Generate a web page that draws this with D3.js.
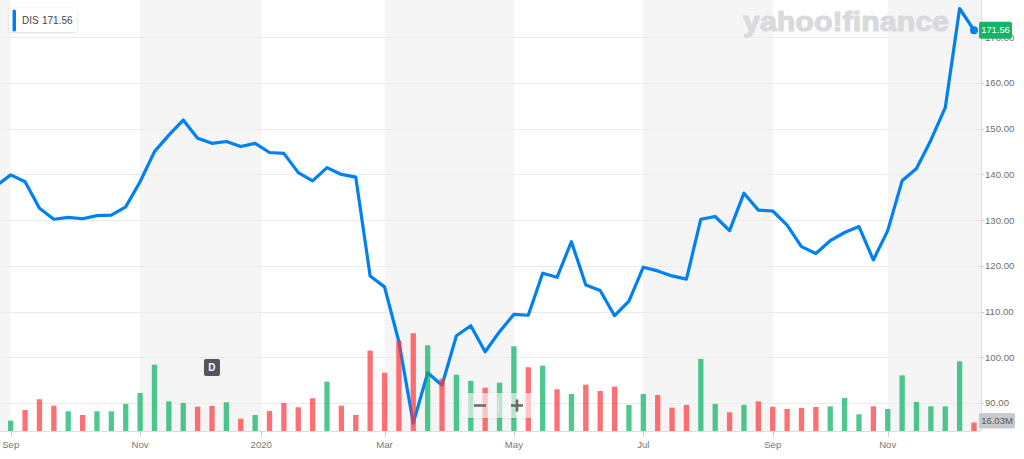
<!DOCTYPE html>
<html><head><meta charset="utf-8">
<script src="https://cdn.jsdelivr.net/npm/d3@7"></script>
<style>
body{margin:0;background:#fff;}
svg{display:block;font-family:"Liberation Sans",Arial,sans-serif;}
</style>
</head><body>
<svg id="c" width="1024" height="459"></svg>
<script>
// ---- data ----
const weeks = [
"2019-08-26","2019-09-02","2019-09-09","2019-09-16","2019-09-23","2019-09-30","2019-10-07","2019-10-14","2019-10-21","2019-10-28",
"2019-11-04","2019-11-11","2019-11-18","2019-11-25","2019-12-02","2019-12-09","2019-12-16","2019-12-23","2019-12-30",
"2020-01-06","2020-01-13","2020-01-20","2020-01-27","2020-02-03","2020-02-10","2020-02-17","2020-02-24",
"2020-03-02","2020-03-09","2020-03-16","2020-03-23","2020-03-30","2020-04-06","2020-04-13","2020-04-20","2020-04-27",
"2020-05-04","2020-05-11","2020-05-18","2020-05-25","2020-06-01","2020-06-08","2020-06-15","2020-06-22","2020-06-29",
"2020-07-06","2020-07-13","2020-07-20","2020-07-27","2020-08-03","2020-08-10","2020-08-17","2020-08-24","2020-08-31",
"2020-09-07","2020-09-14","2020-09-21","2020-09-28","2020-10-05","2020-10-12","2020-10-19","2020-10-26",
"2020-11-02","2020-11-09","2020-11-16","2020-11-23","2020-11-30","2020-12-07","2020-12-14"];
const closes = [
137.5,139.9,138.4,132.6,130.2,130.6,130.3,131.0,131.1,132.9,
138.4,145.0,148.6,151.9,147.9,146.8,147.2,146.1,146.8,
144.8,144.6,140.4,138.6,141.5,140.0,139.4,117.8,
115.4,103.4,85.6,96.6,93.9,104.7,106.9,101.2,105.6,
109.4,109.2,118.4,117.5,125.3,115.8,114.6,109.1,112.3,
119.7,118.9,117.8,117.1,130.2,130.8,127.7,135.9,132.2,
132.0,128.9,124.2,122.7,125.5,127.3,128.6,121.3,
127.7,138.6,141.3,147.5,154.6,176.3,171.56];
// weekly volume in millions, from week 2019-09-02 on
const volumes = [
19.4,39.5,59.6,47.6,37.0,30.1,37.0,37.0,50.8,71.4,
124.6,55.8,52.6,45.7,47.0,54.0,23.1,30.1,
37.6,52.6,44.6,61.5,92.7,47.6,30.1,151.0,
109.6,169.8,183.7,161.1,98.3,105.8,94.0,81.4,90.8,
159.2,119.8,122.8,78.4,69.6,87.0,75.2,83.3,48.9,
69.6,67.7,43.8,48.9,135.4,50.8,35.2,48.9,55.8,
45.6,41.4,43.2,45.1,46.4,62.0,31.4,46.4,
41.4,104.7,54.5,46.4,46.4,131.0,16.03];
const tickLabels = ["Sep","Nov","2020","Mar","May","Jul","Sep","Nov"];
const tickDates  = ["2019-09-02","2019-11-04","2020-01-02","2020-03-02","2020-05-04","2020-07-06","2020-09-07","2020-11-02"];
const priceTicks = [90,100,110,120,130,140,150,160,170];
const ticker = "DIS";
const lastPrice = "171.56";
const lastVolume = "16.03M";
const dividendWeek = "2019-12-09";

// ---- layout ----
const W = 1024, H = 459;
const plotR = 981, axisY = 431;
const svg = d3.select("#c");

const x = d3.scalePoint().domain(weeks).range([-3.68, 974]);
const step = x.step();
function xAt(dateStr){
  if (x(dateStr) !== undefined) return x(dateStr);
  const t = new Date(dateStr+"T00:00:00Z");
  for (let i=0;i<weeks.length-1;i++){
    const a = new Date(weeks[i]+"T00:00:00Z"), b = new Date(weeks[i+1]+"T00:00:00Z");
    if (t>=a && t<b) return x(weeks[i]) + step*(t-a)/(b-a);
  }
  return x(weeks[weeks.length-1]);
}
const y = d3.scaleLinear().domain([90,170]).range([403,37.3]);
const yv = d3.scaleLinear().domain([0,200]).range([axisY, axisY-106.4]);

const defs = svg.append("defs");
defs.append("clipPath").attr("id","plot").append("rect").attr("x",0).attr("y",0).attr("width",plotR).attr("height",axisY);
const sh = defs.append("filter").attr("id","sh").attr("x","-20%").attr("y","-30%").attr("width","140%").attr("height","160%");
sh.append("feDropShadow").attr("dx",0).attr("dy",0.5).attr("stdDeviation",1.2).attr("flood-color","#000").attr("flood-opacity",0.18);

// bands (alternating two-month shading)
const tickX = tickDates.map(xAt);
const bandEdges = [0, ...tickX, plotR];
const plot = svg.append("g").attr("clip-path","url(#plot)");
for (let i=0;i<bandEdges.length-1;i+=2){
  plot.append("rect").attr("x",bandEdges[i]).attr("y",0)
    .attr("width",bandEdges[i+1]-bandEdges[i]).attr("height",axisY).attr("fill","#f5f5f5");
}
// grid
plot.selectAll("line.grid").data(priceTicks).join("line").attr("class","grid")
  .attr("x1",0).attr("x2",plotR).attr("y1",d=>Math.round(y(d))+0.5).attr("y2",d=>Math.round(y(d))+0.5)
  .attr("stroke","#ebebeb").attr("stroke-width",1);

// watermark
svg.append("text").attr("x",743).attr("y",31).attr("font-size",27).attr("font-weight","bold")
  .attr("fill","#d9dade").attr("stroke","#d9dade").attr("stroke-width",1.1).attr("stroke-linejoin","round")
  .attr("textLength",206).attr("lengthAdjust","spacingAndGlyphs")
  .text("yahoo!finance");

// price line
const line = d3.line().x((d,i)=>x(weeks[i])).y(d=>y(d)).curve(d3.curveLinear);
plot.append("path").datum(closes).attr("d",line).attr("fill","none")
  .attr("stroke","#0081f2").attr("stroke-width",3.2).attr("stroke-linejoin","round");

// volume bars (drawn over the line, translucent)
const bw = 5.3;
plot.selectAll("rect.vol").data(volumes).join("rect").attr("class","vol")
  .attr("x",(d,i)=>x(weeks[i+1])-bw/2).attr("width",bw)
  .attr("y",d=>yv(d)).attr("height",d=>axisY-yv(d))
  .attr("fill",(d,i)=>closes[i+1]>=closes[i] ? "rgb(4,176,95)" : "rgb(255,51,58)")
  .attr("fill-opacity",0.7);

// end dot
const li = closes.length-1;
svg.append("circle").attr("cx",x(weeks[li])).attr("cy",y(closes[li])).attr("r",4).attr("fill","#0081f2");

// right axis border
svg.append("line").attr("x1",plotR+0.5).attr("x2",plotR+0.5).attr("y1",0).attr("y2",axisY).attr("stroke","#dedede");
// bottom axis
svg.append("line").attr("x1",0).attr("x2",plotR).attr("y1",axisY+0.5).attr("y2",axisY+0.5).attr("stroke","#dedede");

// price axis labels
const ya = svg.append("g");
ya.selectAll("line").data(priceTicks).join("line")
  .attr("x1",plotR).attr("x2",plotR+3).attr("y1",d=>Math.round(y(d))+0.5).attr("y2",d=>Math.round(y(d))+0.5)
  .attr("stroke","#cfcfcf");
ya.selectAll("text").data(priceTicks).join("text")
  .attr("x",985).attr("y",d=>y(d)).attr("dy","0.35em").attr("font-size",9.6).attr("fill","#6e6e6e")
  .text(d=>d3.format(".2f")(d));

// time axis labels
const xa = svg.append("g");
xa.selectAll("line").data(tickX).join("line")
  .attr("x1",d=>Math.round(d)+0.5).attr("x2",d=>Math.round(d)+0.5).attr("y1",axisY).attr("y2",axisY+6)
  .attr("stroke","#cfcfcf");
xa.selectAll("text").data(tickLabels).join("text")
  .attr("x",(d,i)=>tickX[i]).attr("y",448).attr("text-anchor","middle").attr("font-size",9.6).attr("fill","#777")
  .text(d=>d);

// last price badge
const bg = svg.append("g");
bg.append("rect").attr("x",979).attr("y",y(closes[li])-8.5).attr("width",33).attr("height",17).attr("rx",2).attr("fill","#16b468");
bg.append("text").attr("x",995.5).attr("y",y(closes[li])).attr("dy","0.35em").attr("text-anchor","middle")
  .attr("font-size",9.3).attr("fill","#fff").text(lastPrice);

// last volume badge
const vb = svg.append("g");
vb.append("rect").attr("x",979).attr("y",413).attr("width",36).attr("height",15.5).attr("rx",2).attr("fill","#c8c9cd");
vb.append("text").attr("x",997).attr("y",421).attr("dy","0.35em").attr("text-anchor","middle")
  .attr("font-size",9.5).attr("fill","#555").text(lastVolume);

// dividend marker
const dx = x(dividendWeek);
svg.append("rect").attr("x",dx-8).attr("y",359).attr("width",16).attr("height",17).attr("rx",2).attr("fill","#51565d");
svg.append("text").attr("x",dx).attr("y",367.5).attr("dy","0.35em").attr("text-anchor","middle")
  .attr("font-size",10).attr("font-weight","bold").attr("fill","#fff").text("D");

// zoom buttons
const zb = svg.append("g");
zb.append("rect").attr("x",462).attr("y",393).attr("width",72).attr("height",25).attr("rx",3)
  .attr("fill","#ffffff").attr("fill-opacity",0.6).attr("filter","url(#sh)");
zb.append("line").attr("x1",498.5).attr("x2",498.5).attr("y1",397).attr("y2",414).attr("stroke","#e2e2e2");
zb.append("line").attr("x1",474).attr("x2",486).attr("y1",405.5).attr("y2",405.5).attr("stroke","#6b6b6b").attr("stroke-width",2.6);
zb.append("line").attr("x1",511).attr("x2",523).attr("y1",405.5).attr("y2",405.5).attr("stroke","#6b6b6b").attr("stroke-width",2.6);
zb.append("line").attr("x1",517).attr("x2",517).attr("y1",399.5).attr("y2",411.5).attr("stroke","#6b6b6b").attr("stroke-width",2.6);

// legend
const lg = svg.append("g");
lg.append("rect").attr("x",9).attr("y",8.5).attr("width",68).attr("height",23.5).attr("rx",3).attr("fill","#fff").attr("filter","url(#sh)");
lg.append("rect").attr("x",12.5).attr("y",9.5).attr("width",3.5).attr("height",22).attr("rx",1.5).attr("fill","#0081f2");
lg.append("text").attr("x",22).attr("y",20.5).attr("dy","0.35em").attr("font-size",10).attr("fill","#464646").text(ticker);
lg.append("text").attr("x",42).attr("y",20.5).attr("dy","0.35em").attr("font-size",10).attr("fill","#464646").text(lastPrice);
</script>
</body></html>
